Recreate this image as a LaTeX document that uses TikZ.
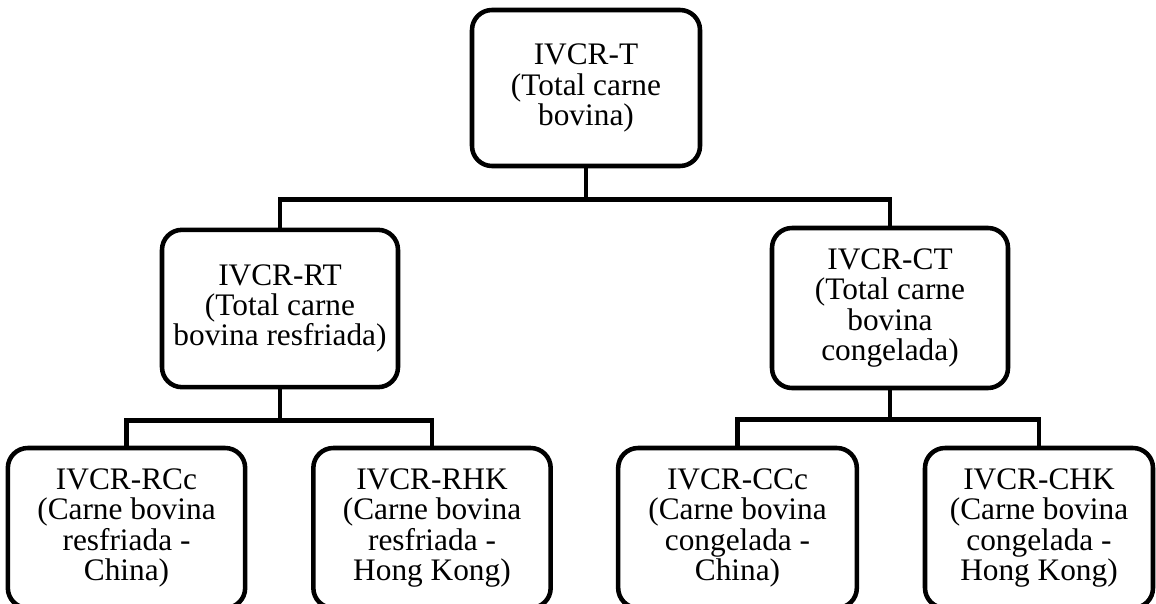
\documentclass[tikz,border=0pt]{standalone}
\usepackage{fontspec}
\setmainfont{Liberation Serif}
\usepackage{tikz}
\tikzstyle{indexBox}=[draw,rounded corners=15pt,line width=3.4pt,align=center,inner sep=2pt,font=\fontsize{23.5}{22.8}\selectfont]
\tikzstyle{treeEdge}=[line width=3.4pt]

\begin{document}
\begin{tikzpicture}[x=0.75pt,y=-0.75pt]
    \useasboundingbox (0,0) rectangle (1156,603);

    % Total index
    \node[indexBox,minimum width=171pt,minimum height=117pt] (T) at (586,88) {IVCR-T\\ (Total carne\\ bovina)};

    % Chilled and frozen totals
    \node[indexBox,minimum width=177pt,minimum height=118pt] (RT) at (280,308.5) {IVCR-RT\\ (Total carne\\ bovina resfriada)};
    \node[indexBox,minimum width=177pt,minimum height=120pt] (CT) at (890,308) {IVCR-CT\\ (Total carne\\ bovina\\ congelada)};
    \draw[treeEdge] (T.south) -- ++(0,31) -| (RT.north);
    \draw[treeEdge] (T.south) -- ++(0,31) -| (CT.north);

    % By destination
    \node[indexBox,minimum width=178pt,minimum height=120pt] (RCc) at (126.5,528) {IVCR-RCc\\ (Carne bovina\\ resfriada -\\ China)};
    \node[indexBox,minimum width=178pt,minimum height=120pt] (RHK) at (432,528) {IVCR-RHK\\ (Carne bovina\\ resfriada -\\ Hong Kong)};
    \node[indexBox,minimum width=179pt,minimum height=120pt] (CCc) at (737.5,528) {IVCR-CCc\\ (Carne bovina\\ congelada -\\ China)};
    \node[indexBox,minimum width=171pt,minimum height=120pt] (CHK) at (1039,528) {IVCR-CHK\\ (Carne bovina\\ congelada -\\ Hong Kong)};
    \draw[treeEdge] (RT.south) -- ++(0,31) -| (RCc.north);
    \draw[treeEdge] (RT.south) -- ++(0,31) -| (RHK.north);
    \draw[treeEdge] (CT.south) -- ++(0,29) -| (CCc.north);
    \draw[treeEdge] (CT.south) -- ++(0,29) -| (CHK.north);

\end{tikzpicture}
\end{document}
